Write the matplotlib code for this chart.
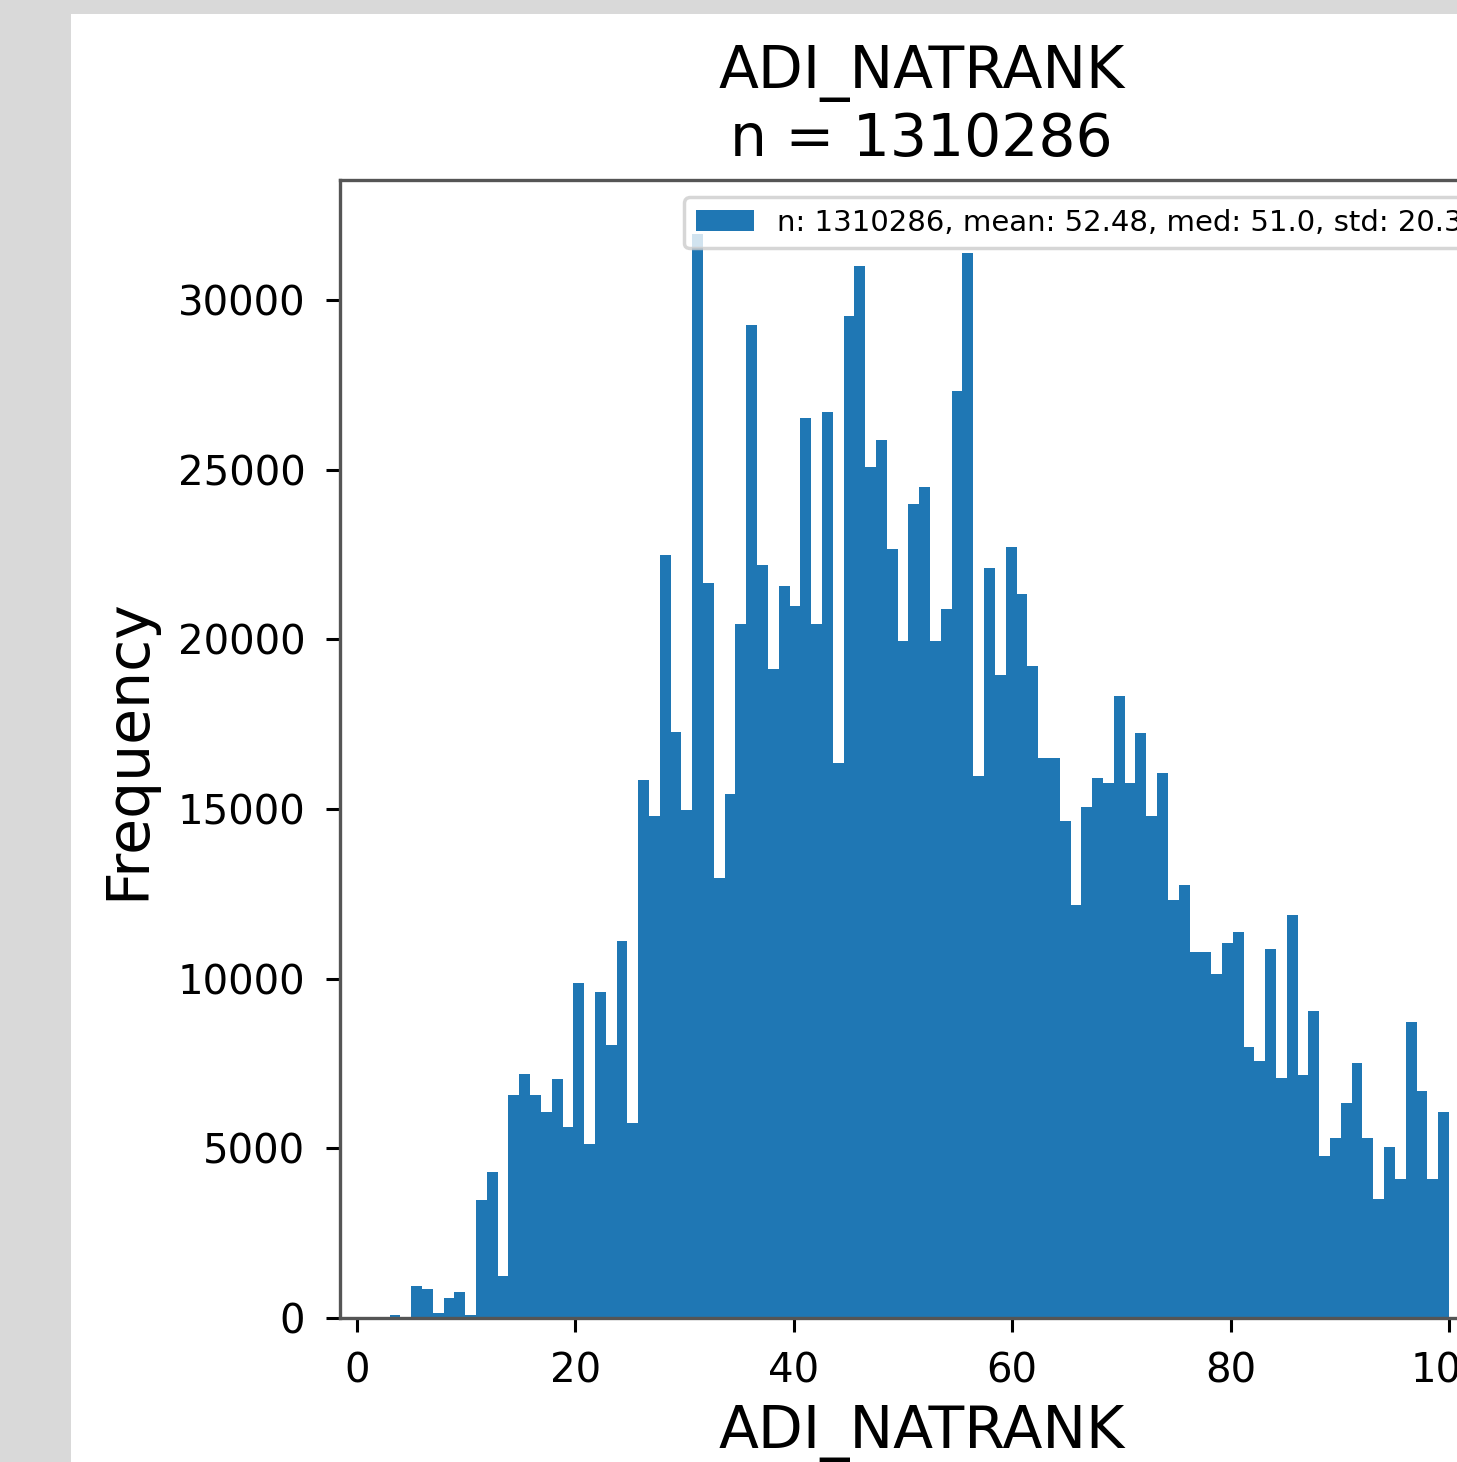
import matplotlib
matplotlib.use("Agg")
import matplotlib.pyplot as plt
from matplotlib.patches import Rectangle
import numpy as np

# ---- data ----
ranks = list(range(1, 101))
counts = [
    0, 0, 100, 0, 945, 845, 155, 600, 765, 90,
    3475, 4310, 1240, 6570, 7180, 6570, 6080, 7050, 5640, 9860,
    5130, 9600, 8045, 11110, 5740, 15855, 14795, 22490, 17280, 14970,
    31940, 21650, 12960, 15440, 20450, 29260, 22190, 19125, 21580, 20990,
    26540, 20450, 26710, 16350, 29530, 31000, 25090, 25870, 22650, 19950,
    23980, 24500, 19950, 20890, 27320, 31375, 15970, 22090, 18950, 22730,
    21330, 19215, 16500, 16500, 14650, 12170, 15070, 15930, 15760, 18330,
    15760, 17230, 14795, 16050, 12320, 12760, 10780, 10780, 10140, 11040,
    11380, 7975, 7585, 10870, 7065, 11875, 7160, 9060, 4775, 5300,
    6330, 7505, 5300, 3500, 5030, 4090, 8730, 6700, 4090, 6080,
]
title_text = "ADI_NATRANK\nn = 1310286"
xlabel_text = "ADI_NATRANK"
ylabel_text = "Frequency"
legend_label = "n: 1310286, mean: 52.48, med: 51.0, std: 20.3"
xticks = [0, 20, 40, 60, 80, 100]
yticks = [0, 5000, 10000, 15000, 20000, 25000, 30000]

W, H = 1457, 1462
fig = plt.figure(figsize=(W / 100, H / 100), dpi=100)
fig.patch.set_facecolor("#d9d9d9")
fig.patches.append(Rectangle((71 / W, 0), 1 - 71 / W, (H - 14) / H,
                             transform=fig.transFigure, facecolor="white",
                             edgecolor="none", zorder=-10))

ax_left, ax_right, ax_top, ax_bottom = 340, 1503, 180, 1318
ax = fig.add_axes([ax_left / W, (H - ax_bottom) / H,
                   (ax_right - ax_left) / W, (ax_bottom - ax_top) / H])

ax.hist(ranks, bins=100, weights=counts, color="#1f77b4", label=legend_label)

ax.set_xlim(-1.557, 104.95)
ax.set_ylim(0, 33540)
ax.set_xticks(xticks)
ax.set_yticks(yticks)

ax.tick_params(axis="both", labelsize=29, length=10, width=2.2)
ax.tick_params(axis="y", pad=15)
ax.tick_params(axis="x", pad=14)
for sp in ax.spines.values():
    sp.set_linewidth(2.4)
    sp.set_color("#555555")

ax.set_title(title_text, fontsize=42, pad=17)
ax.set_xlabel(xlabel_text, fontsize=42, labelpad=10)
ax.set_ylabel(ylabel_text, fontsize=42, labelpad=15)

leg = ax.legend(loc="upper left", bbox_to_anchor=(684 / W, 1 - 197 / H),
                bbox_transform=fig.transFigure, fontsize=21, borderaxespad=0)
leg.get_frame().set_linewidth(2.5)

fig.savefig("out.png", dpi=100, facecolor=fig.get_facecolor())
